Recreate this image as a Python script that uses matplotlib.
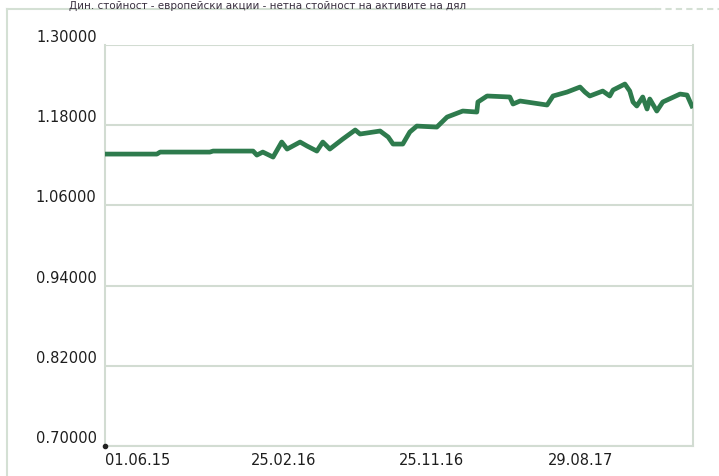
import matplotlib
matplotlib.use("Agg")
import matplotlib.pyplot as plt
import matplotlib.transforms as mtransforms
from matplotlib.lines import Line2D
import pandas as pd

title = "Дин. стойност - европейски акции - нетна стойност на активите на дял"

dates = ["2015-06-01", "2015-09-05", "2015-09-11", "2015-12-12", "2015-12-18",
         "2016-03-01", "2016-03-08", "2016-03-19", "2016-04-07", "2016-04-23",
         "2016-05-03", "2016-05-27", "2016-06-09", "2016-06-27", "2016-07-08",
         "2016-07-21", "2016-08-14", "2016-09-06", "2016-09-15", "2016-10-22",
         "2016-11-06", "2016-11-15", "2016-12-03", "2016-12-16", "2016-12-29",
         "2017-02-04", "2017-02-23", "2017-03-24", "2017-04-19", "2017-04-21",
         "2017-05-08", "2017-06-19", "2017-06-25", "2017-07-08", "2017-08-27",
         "2017-09-07", "2017-10-03", "2017-10-27", "2017-11-05", "2017-11-14",
         "2017-12-08", "2017-12-21", "2017-12-27", "2018-01-18", "2018-01-27",
         "2018-02-02", "2018-02-09", "2018-02-20", "2018-02-28", "2018-03-05",
         "2018-03-18", "2018-03-29", "2018-04-30", "2018-05-13", "2018-05-22"]
values = [1.1368, 1.1368, 1.1398, 1.1398, 1.1413,
          1.1413, 1.1353, 1.1398, 1.1323, 1.1548,
          1.1443, 1.1548, 1.1488, 1.1413, 1.1548,
          1.1443, 1.1593, 1.1728, 1.1668, 1.1713,
          1.1623, 1.1518, 1.1518, 1.1698, 1.1787,
          1.1772, 1.1922, 1.2012, 1.1997, 1.2147,
          1.2237, 1.2222, 1.2117, 1.2162, 1.2102,
          1.2237, 1.2296, 1.2371, 1.2296, 1.2237,
          1.2311, 1.2237, 1.2326, 1.2416, 1.2311,
          1.2147, 1.2087, 1.2222, 1.2042, 1.2192,
          1.2012, 1.2147, 1.2266, 1.2251, 1.2087]

y_ticks = [0.70, 0.82, 0.94, 1.06, 1.18, 1.30]
y_tick_labels = ["0.70000", "0.82000", "0.94000", "1.06000", "1.18000", "1.30000"]
x_ticks = ["2015-06-01", "2016-02-25", "2016-11-25", "2017-08-29"]
x_tick_labels = ["01.06.15", "25.02.16", "25.11.16", "29.08.17"]
x_end = "2018-05-24"

W, H = 719, 477
fig = plt.figure(figsize=(W / 100, H / 100), dpi=100)
fig.patch.set_facecolor("white")

frame_c = "#d4e0d4"
grid_c = "#d2dcd2"

# outer frame lines
fig.add_artist(Line2D([7 / W, 7 / W], [0, 1 - 10 / H], color=frame_c, lw=1.5, transform=fig.transFigure))
fig.add_artist(Line2D([7 / W, 655 / W], [1 - 10 / H, 1 - 10 / H], color=frame_c, lw=1.5, transform=fig.transFigure))
fig.add_artist(Line2D([655 / W, 1], [1 - 10 / H, 1 - 10 / H], color=frame_c, lw=1.5, ls=(0, (3, 2)), transform=fig.transFigure))

# title at the very top
fig.text(69 / W, 1 - 1 / H, title, fontsize=7.5, color="#3a3040", ha="left", va="top")

ax = fig.add_axes([105 / W, 1 - 447 / H, (693 - 105) / W, (447 - 46) / H])
x = pd.to_datetime(dates)
ax.plot(x, values, color="#2e7b4d", lw=3.4, solid_joinstyle="round", zorder=3)

ax.set_xlim(pd.Timestamp(dates[0]), pd.Timestamp(x_end))
ax.set_ylim(0.70, 1.30)
ax.set_yticks(y_ticks)
ax.set_yticklabels(y_tick_labels)
ax.set_xticks(pd.to_datetime(x_ticks))
ax.set_xticklabels(x_tick_labels)
ax.grid(axis="y", color=grid_c, lw=1.5)
ax.set_axisbelow(True)

for s in ["left", "right", "bottom"]:
    ax.spines[s].set_color(grid_c)
    ax.spines[s].set_linewidth(1.5)
ax.spines["top"].set_visible(False)

ax.tick_params(axis="both", length=0, labelsize=10.5, labelcolor="#1e1e1e")
ax.tick_params(axis="y", pad=6)
ax.tick_params(axis="x", pad=4)

off_y = mtransforms.ScaledTranslation(0, 10 / 100, fig.dpi_scale_trans)
for lab in ax.get_yticklabels():
    lab.set_transform(lab.get_transform() + off_y)
for lab in ax.get_xticklabels():
    lab.set_horizontalalignment("left")

# small dot at origin
ax.plot([pd.Timestamp(dates[0])], [0.70], marker="o", ms=3, color="#222222", clip_on=False, zorder=5)

fig.savefig("out.png", dpi=100, facecolor="white")
